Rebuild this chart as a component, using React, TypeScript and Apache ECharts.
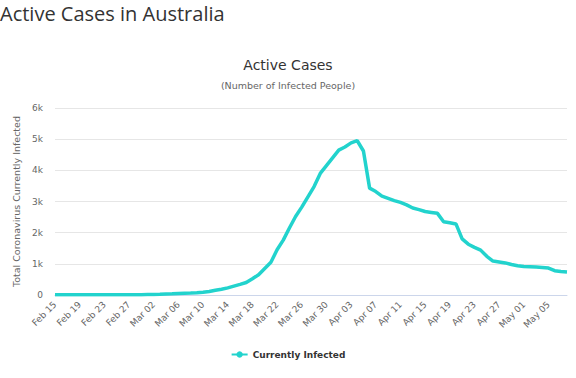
import React, { useEffect, useRef } from "react";
import * as echarts from "echarts";

const dates: string[] = [
  "Feb 15", "Feb 16", "Feb 17", "Feb 18", "Feb 19", "Feb 20", "Feb 21", "Feb 22", "Feb 23", "Feb 24",
  "Feb 25", "Feb 26", "Feb 27", "Feb 28", "Feb 29",
  "Mar 01", "Mar 02", "Mar 03", "Mar 04", "Mar 05", "Mar 06", "Mar 07", "Mar 08", "Mar 09", "Mar 10",
  "Mar 11", "Mar 12", "Mar 13", "Mar 14", "Mar 15", "Mar 16", "Mar 17", "Mar 18", "Mar 19", "Mar 20",
  "Mar 21", "Mar 22", "Mar 23", "Mar 24", "Mar 25", "Mar 26", "Mar 27", "Mar 28", "Mar 29", "Mar 30", "Mar 31",
  "Apr 01", "Apr 02", "Apr 03", "Apr 04", "Apr 05", "Apr 06", "Apr 07", "Apr 08", "Apr 09", "Apr 10",
  "Apr 11", "Apr 12", "Apr 13", "Apr 14", "Apr 15", "Apr 16", "Apr 17", "Apr 18", "Apr 19", "Apr 20",
  "Apr 21", "Apr 22", "Apr 23", "Apr 24", "Apr 25", "Apr 26", "Apr 27", "Apr 28", "Apr 29", "Apr 30",
  "May 01", "May 02", "May 03", "May 04", "May 05", "May 06", "May 07", "May 08",
];

const currentlyInfected: number[] = [
  10, 10, 10, 10, 10, 10, 10, 10, 10, 10, 10, 11, 11, 12, 12,
  15, 17, 22, 30, 38, 48, 55, 62, 72, 90,
  112, 150, 185, 230, 285, 340, 400, 520, 650, 850,
  1050, 1450, 1760, 2150, 2520, 2820, 3150, 3480, 3900, 4150, 4400,
  4650, 4750, 4880, 4950, 4620, 3430, 3320, 3170, 3100, 3030,
  2970, 2890, 2790, 2740, 2680, 2650, 2620, 2350, 2320, 2280,
  1800, 1630, 1530, 1440, 1240, 1090, 1060, 1030, 980, 940,
  915, 905, 895, 885, 865, 780, 755, 740,
];

const pageTitle = "Active Cases in Australia";
const chartTitle = "Active Cases";
const chartSubtitle = "(Number of Infected People)";
const yAxisTitle = "Total Coronavirus Currently Infected";
const seriesName = "Currently Infected";

export default function App() {
  const ref = useRef<HTMLDivElement>(null);
  useEffect(() => {
    if (!ref.current) return;
    const chart = echarts.init(ref.current, undefined, { renderer: "svg" });
    const font = "DejaVu Sans";
    chart.setOption({
      animation: false,
      backgroundColor: "#ffffff",
      title: {
        text: chartTitle,
        subtext: chartSubtitle,
        left: "center",
        top: 53,
        itemGap: 8,
        textStyle: { fontFamily: font, fontSize: 14, fontWeight: "normal", color: "#333333" },
        subtextStyle: { fontFamily: font, fontSize: 9.5, color: "#666666" },
      },
      graphic: [
        {
          type: "text",
          left: 0,
          top: 3,
          style: {
            text: pageTitle,
            fontFamily: "Open Sans",
            fontSize: 20,
            fill: "#333333",
          },
        },
      ],
      legend: {
        data: [seriesName],
        left: "center",
        top: 345,
        itemWidth: 16,
        itemHeight: 8,
        textStyle: { fontFamily: font, fontSize: 9, fontWeight: "bold", color: "#333333" },
      },
      grid: { left: 55, right: 9, top: 108, bottom: 83 },
      xAxis: {
        type: "category",
        data: dates,
        boundaryGap: false,
        axisLine: { lineStyle: { color: "#ccd6eb", width: 1 } },
        axisTick: { show: false },
        axisLabel: {
          interval: 3,
          rotate: 45,
          fontFamily: font,
          fontSize: 9,
          color: "#666666",
          margin: 8,
        },
        splitLine: { show: false },
      },
      yAxis: {
        type: "value",
        min: 0,
        max: 6000,
        interval: 1000,
        name: yAxisTitle,
        nameLocation: "middle",
        nameRotate: 90,
        nameGap: 31,
        nameTextStyle: { fontFamily: font, fontSize: 9.5, color: "#666666" },
        axisLine: { show: false },
        axisTick: { show: false },
        axisLabel: {
          fontFamily: font,
          fontSize: 9,
          color: "#666666",
          margin: 12,
          formatter: (v: number) => (v === 0 ? "0" : v / 1000 + "k"),
        },
        splitLine: { lineStyle: { color: "#e6e6e6", width: 1 } },
      },
      series: [
        {
          name: seriesName,
          type: "line",
          data: currentlyInfected,
          symbol: "circle",
          symbolSize: 8,
          showSymbol: false,
          lineStyle: { color: "#22d3cd", width: 3.5 },
          itemStyle: { color: "#22d3cd" },
        },
      ],
    });
    return () => chart.dispose();
  }, []);
  return (
    <div
      ref={ref}
      style={{ position: "absolute", left: 0, top: 0, width: 576, height: 378 }}
    />
  );
}
